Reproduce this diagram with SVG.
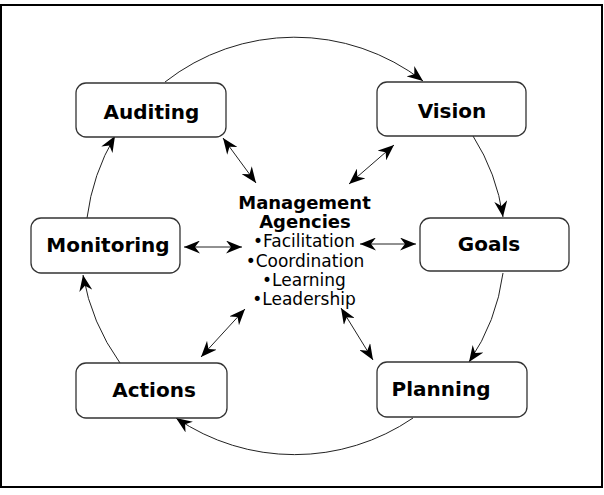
<svg xmlns="http://www.w3.org/2000/svg" width="604" height="495" viewBox="0 0 604 495">
<style>
  .box { fill: #ffffff; stroke: #333333; stroke-width: 1.3; }
  .lbl { font-family: "DejaVu Sans", Verdana, sans-serif; font-weight: bold; font-size: 20px; fill: #000; text-anchor: middle; }
  .ctr { font-family: "DejaVu Sans", Verdana, sans-serif; font-size: 17px; fill: #000; text-anchor: middle; }
  .ctrb { font-weight: bold; font-size: 18px; }
  .arc { fill: none; stroke: #222; stroke-width: 1; marker-end: url(#ah); }
  .dbl { fill: none; stroke: #222; stroke-width: 1; marker-end: url(#ah); marker-start: url(#ah); }
</style>
<defs>
  <marker id="ah" viewBox="0 0 16 13" refX="16" refY="6.5" markerWidth="16" markerHeight="13" markerUnits="userSpaceOnUse" orient="auto-start-reverse">
    <path d="M0,0 L16,6.5 L0,13 L5,6.5 Z" fill="#000"/>
  </marker>
</defs>
<rect width="604" height="495" fill="#ffffff"/>
<path d="M1,5 H602 V487 H1 Z" fill="none" stroke="#000" stroke-width="2"/>
<g id="connectors">
  <path class="arc" d="M165,82 A210,210 0 0 1 423,81"/>
  <path class="arc" d="M473,136 A205,205 0 0 1 503,217"/>
  <path class="arc" d="M503,273 A205,205 0 0 1 469,362"/>
  <path class="arc" d="M413,418 A210,210 0 0 1 176,418"/>
  <path class="arc" d="M120,363 A215,215 0 0 1 83,275"/>
  <path class="arc" d="M87,218 A215,215 0 0 1 115,136"/>
  <path class="dbl" d="M223,138 L256,183"/>
  <path class="dbl" d="M394,145 L349,184"/>
  <path class="dbl" d="M184,247 L242,247"/>
  <path class="dbl" d="M360,244 L416,244"/>
  <path class="dbl" d="M245,309 L201,357"/>
  <path class="dbl" d="M341,308 L373,360"/>
</g>
<g id="auditing">
  <rect class="box" x="76" y="83" width="150" height="54" rx="10"/>
  <text class="lbl" x="151.5" y="119">Auditing</text>
</g>
<g id="vision">
  <rect class="box" x="377" y="82" width="149" height="54" rx="10"/>
  <text class="lbl" x="452" y="118">Vision</text>
</g>
<g id="monitoring">
  <rect class="box" x="31" y="218" width="149" height="55" rx="10"/>
  <text class="lbl" x="108" y="252">Monitoring</text>
</g>
<g id="goals">
  <rect class="box" x="420" y="218" width="149" height="53" rx="10"/>
  <text class="lbl" x="489" y="251">Goals</text>
</g>
<g id="actions">
  <rect class="box" x="76" y="363" width="151" height="55" rx="10"/>
  <text class="lbl" x="154" y="397">Actions</text>
</g>
<g id="planning">
  <rect class="box" x="377" y="362" width="150" height="55" rx="10"/>
  <text class="lbl" x="441" y="396">Planning</text>
</g>
<g id="management">
  <text class="ctr ctrb" x="304.5" y="209">Management</text>
  <text class="ctr ctrb" x="305" y="228">Agencies</text>
  <text class="ctr" x="304" y="247">•Facilitation</text>
  <text class="ctr" x="305" y="266.5">•Coordination</text>
  <text class="ctr" x="304" y="286">•Learning</text>
  <text class="ctr" x="304" y="305">•Leadership</text>
</g>
</svg>
